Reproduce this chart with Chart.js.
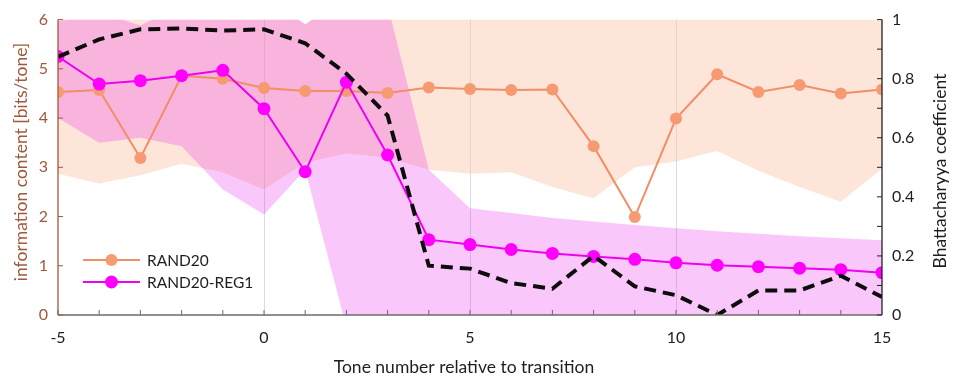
<!DOCTYPE html>
<html>
<head>
<meta charset="utf-8">
<script src="https://cdn.jsdelivr.net/npm/chart.js@4/dist/chart.umd.min.js"></script>
<style>
  html, body { margin: 0; padding: 0; background: #ffffff; }
  #wrap { width: 956px; height: 383px; }
</style>
</head>
<body>
<div id="wrap"><canvas id="chart" width="956" height="383"></canvas></div>
<script>
// Tone positions relative to the transition
const tones = [-5, -4, -3, -2, -1, 0, 1, 2, 3, 4, 5, 6, 7, 8, 9, 10, 11, 12, 13, 14, 15];

// Information content (bits/tone), left axis
const rand20 = [4.53, 4.57, 3.19, 4.86, 4.80, 4.61, 4.55, 4.55, 4.51, 4.62, 4.59, 4.57, 4.58, 3.43, 1.99, 3.99, 4.89, 4.53, 4.67, 4.50, 4.58];
const rand20Reg1 = [5.25, 4.69, 4.76, 4.86, 4.97, 4.19, 2.91, 4.73, 3.25, 1.53, 1.43, 1.33, 1.25, 1.19, 1.13, 1.06, 1.01, 0.98, 0.95, 0.92, 0.86];

// Spread of each condition (upper / lower edge of the shaded band)
const rand20Upper = [6.5, 6.5, 6.5, 6.5, 6.5, 6.5, 5.9, 6.5, 6.5, 6.5, 6.5, 6.5, 6.5, 6.5, 6.5, 6.5, 6.5, 6.5, 6.5, 6.5, 6.5];
const rand20Lower = [2.87, 2.67, 2.84, 3.07, 2.90, 2.55, 3.10, 3.28, 3.20, 2.95, 2.87, 2.90, 2.60, 2.37, 3.00, 3.12, 3.33, 2.93, 2.60, 2.30, 2.97];
const reg1Upper = [5.96, 6.15, 5.88, 6.3, 6.5, 6.5, 5.9, 6.5, 6.3, 2.95, 2.17, 2.07, 1.97, 1.90, 1.83, 1.76, 1.70, 1.65, 1.60, 1.56, 1.52];
const reg1Lower = [4.00, 3.50, 3.60, 3.43, 2.55, 2.04, 2.95, -0.25, -0.5, -0.5, -0.5, -0.5, -0.5, -0.5, -0.5, -0.5, -0.5, -0.5, -0.5, -0.5, -0.5];

// Bhattacharyya coefficient between the two conditions, right axis
const bhattacharyya = [0.874, 0.933, 0.967, 0.970, 0.963, 0.967, 0.920, 0.817, 0.675, 0.167, 0.157, 0.108, 0.089, 0.200, 0.097, 0.067, 0.000, 0.083, 0.083, 0.133, 0.061];

// Axis tick settings
const xTickStep = 1, xLabelEvery = 5;
const leftTickStep = 1;
const rightTickStep = 0.1;

const FONT = 'Lato, "Open Sans", sans-serif';
const BROWN = '#a0593a';
const INK = '#1e1e1e';

const pts = arr => tones.map((t, i) => ({ x: t, y: arr[i] }));

const bandStyle = (color) => ({
  type: 'line',
  borderWidth: 0,
  pointRadius: 0,
  pointHoverRadius: 0,
  backgroundColor: color,
  tension: 0
});

const datasets = [
  { label: 'Bhattacharyya', type: 'line', data: pts(bhattacharyya), yAxisID: 'y2',
    borderColor: '#0d0d0d', borderWidth: 4, borderDash: [12, 7], pointRadius: 0, fill: false, order: 0, tension: 0 },
  { label: 'RAND20-REG1', type: 'line', data: pts(rand20Reg1), yAxisID: 'y',
    borderColor: '#f000f0', borderWidth: 2, pointRadius: 6.5, pointBackgroundColor: '#ff00ff',
    pointBorderWidth: 0, fill: false, order: 1, tension: 0, legendItem: true },
  { label: 'RAND20', type: 'line', data: pts(rand20), yAxisID: 'y',
    borderColor: '#f28e66', borderWidth: 2, pointRadius: 6, pointBackgroundColor: '#f69a72',
    pointBorderWidth: 0, fill: false, order: 2, tension: 0, legendItem: true },
  Object.assign(bandStyle('rgba(230,20,230,0.24)'), { label: 'reg1Upper', data: pts(reg1Upper), yAxisID: 'y', fill: '+1', order: 3 }),
  Object.assign(bandStyle('rgba(0,0,0,0)'), { label: 'reg1Lower', data: pts(reg1Lower), yAxisID: 'y', fill: false, order: 3 }),
  Object.assign(bandStyle('rgba(250,200,170,0.45)'), { label: 'rand20Upper', data: pts(rand20Upper), yAxisID: 'y', fill: '+1', order: 4 }),
  Object.assign(bandStyle('rgba(0,0,0,0)'), { label: 'rand20Lower', data: pts(rand20Lower), yAxisID: 'y', fill: false, order: 4 })
];

// Inward tick marks, axis lines, titles and the in-plot legend
const decorations = {
  id: 'decorations',
  afterDatasetsDraw(chart) {
    const { ctx, chartArea: a, scales } = chart;
    ctx.save();
    // axis lines
    ctx.lineWidth = 1.3;
    ctx.strokeStyle = '#6f6a6a';
    ctx.beginPath(); ctx.moveTo(a.left, a.bottom); ctx.lineTo(a.right, a.bottom); ctx.stroke();
    ctx.strokeStyle = BROWN;
    ctx.beginPath(); ctx.moveTo(a.left, a.top); ctx.lineTo(a.left, a.bottom); ctx.stroke();
    ctx.strokeStyle = '#222';
    ctx.beginPath(); ctx.moveTo(a.right, a.top); ctx.lineTo(a.right, a.bottom); ctx.stroke();

    // tick marks pointing into the plot
    ctx.lineWidth = 1;
    ctx.strokeStyle = '#6f6a6a';
    scales.x.ticks.forEach(t => {
      const px = scales.x.getPixelForValue(t.value);
      ctx.beginPath(); ctx.moveTo(px, a.bottom); ctx.lineTo(px, a.bottom - 5); ctx.stroke();
    });
    ctx.strokeStyle = BROWN;
    scales.y.ticks.forEach(t => {
      const py = scales.y.getPixelForValue(t.value);
      ctx.beginPath(); ctx.moveTo(a.left, py); ctx.lineTo(a.left + 5, py); ctx.stroke();
    });
    ctx.strokeStyle = '#222';
    scales.y2.ticks.forEach(t => {
      const py = scales.y2.getPixelForValue(t.value);
      ctx.beginPath(); ctx.moveTo(a.right, py); ctx.lineTo(a.right - 5, py); ctx.stroke();
    });

    // legend
    const items = chart.data.datasets.filter(d => d.legendItem).reverse();
    const lx = a.left + 25, ly = a.bottom - 55, rowH = 22;
    ctx.font = '15.5px ' + FONT;
    ctx.textBaseline = 'middle';
    ctx.textAlign = 'left';
    items.forEach((d, i) => {
      const y = ly + i * rowH;
      ctx.strokeStyle = d.borderColor;
      ctx.lineWidth = d.borderWidth;
      ctx.beginPath(); ctx.moveTo(lx, y); ctx.lineTo(lx + 57, y); ctx.stroke();
      ctx.fillStyle = d.pointBackgroundColor;
      ctx.beginPath(); ctx.arc(lx + 28.5, y, d.pointRadius, 0, Math.PI * 2); ctx.fill();
      ctx.fillStyle = INK;
      ctx.fillText(d.label, lx + 64, y + 1);
    });

    // axis titles
    ctx.font = '17.5px ' + FONT;
    ctx.textAlign = 'center';
    ctx.fillStyle = INK;
    ctx.fillText('Tone number relative to transition', (a.left + a.right) / 2 - 6, 367);

    ctx.save();
    ctx.translate(21, 162);
    ctx.rotate(-Math.PI / 2);
    ctx.fillStyle = BROWN;
    ctx.fillText('information content [bits/tone]', 0, 0);
    ctx.restore();

    ctx.save();
    ctx.translate(940, 171);
    ctx.rotate(-Math.PI / 2);
    ctx.fillStyle = INK;
    ctx.fillText('Bhattacharyya coefficient', 0, 0);
    ctx.restore();

    ctx.restore();
  }
};

new Chart(document.getElementById('chart'), {
  type: 'line',
  data: { datasets },
  options: {
    responsive: false,
    devicePixelRatio: 1,
    animation: false,
    events: [],
    layout: { padding: { top: 15, left: 0, right: 0, bottom: 0 } },
    plugins: {
      legend: { display: false },
      tooltip: { enabled: false },
      filler: { propagate: false }
    },
    scales: {
      x: {
        type: 'linear', position: 'bottom', min: -5, max: 15,
        border: { display: false },
        grid: {
          drawTicks: false,
          lineWidth: 1,
          color: c => (c.tick && [0, 5, 10].includes(c.tick.value)) ? 'rgba(0,0,0,0.14)' : 'rgba(0,0,0,0)'
        },
        ticks: {
          stepSize: xTickStep, autoSkip: false, maxRotation: 0, padding: 13,
          color: INK, font: { family: FONT, size: 16 },
          callback: v => (v % xLabelEvery === 0 ? String(v) : '')
        },
        afterFit: s => { s.height = 68; }
      },
      y: {
        position: 'left', min: 0, max: 6,
        border: { display: false },
        grid: { display: false, drawTicks: false },
        ticks: { stepSize: leftTickStep, padding: 10, color: BROWN, font: { family: FONT, size: 16 } },
        afterFit: s => { s.width = 58; }
      },
      y2: {
        position: 'right', min: 0, max: 1,
        border: { display: false },
        grid: { display: false, drawTicks: false },
        ticks: {
          stepSize: rightTickStep, padding: 10, color: INK, autoSkip: false,
          font: { family: FONT, size: 16 },
          callback: v => {
            const k = Math.round(v * 10);
            return k % 2 === 0 ? String(k / 10) : '';
          }
        },
        afterFit: s => { s.width = 74; }
      }
    }
  },
  plugins: [decorations]
});
</script>
</body>
</html>
